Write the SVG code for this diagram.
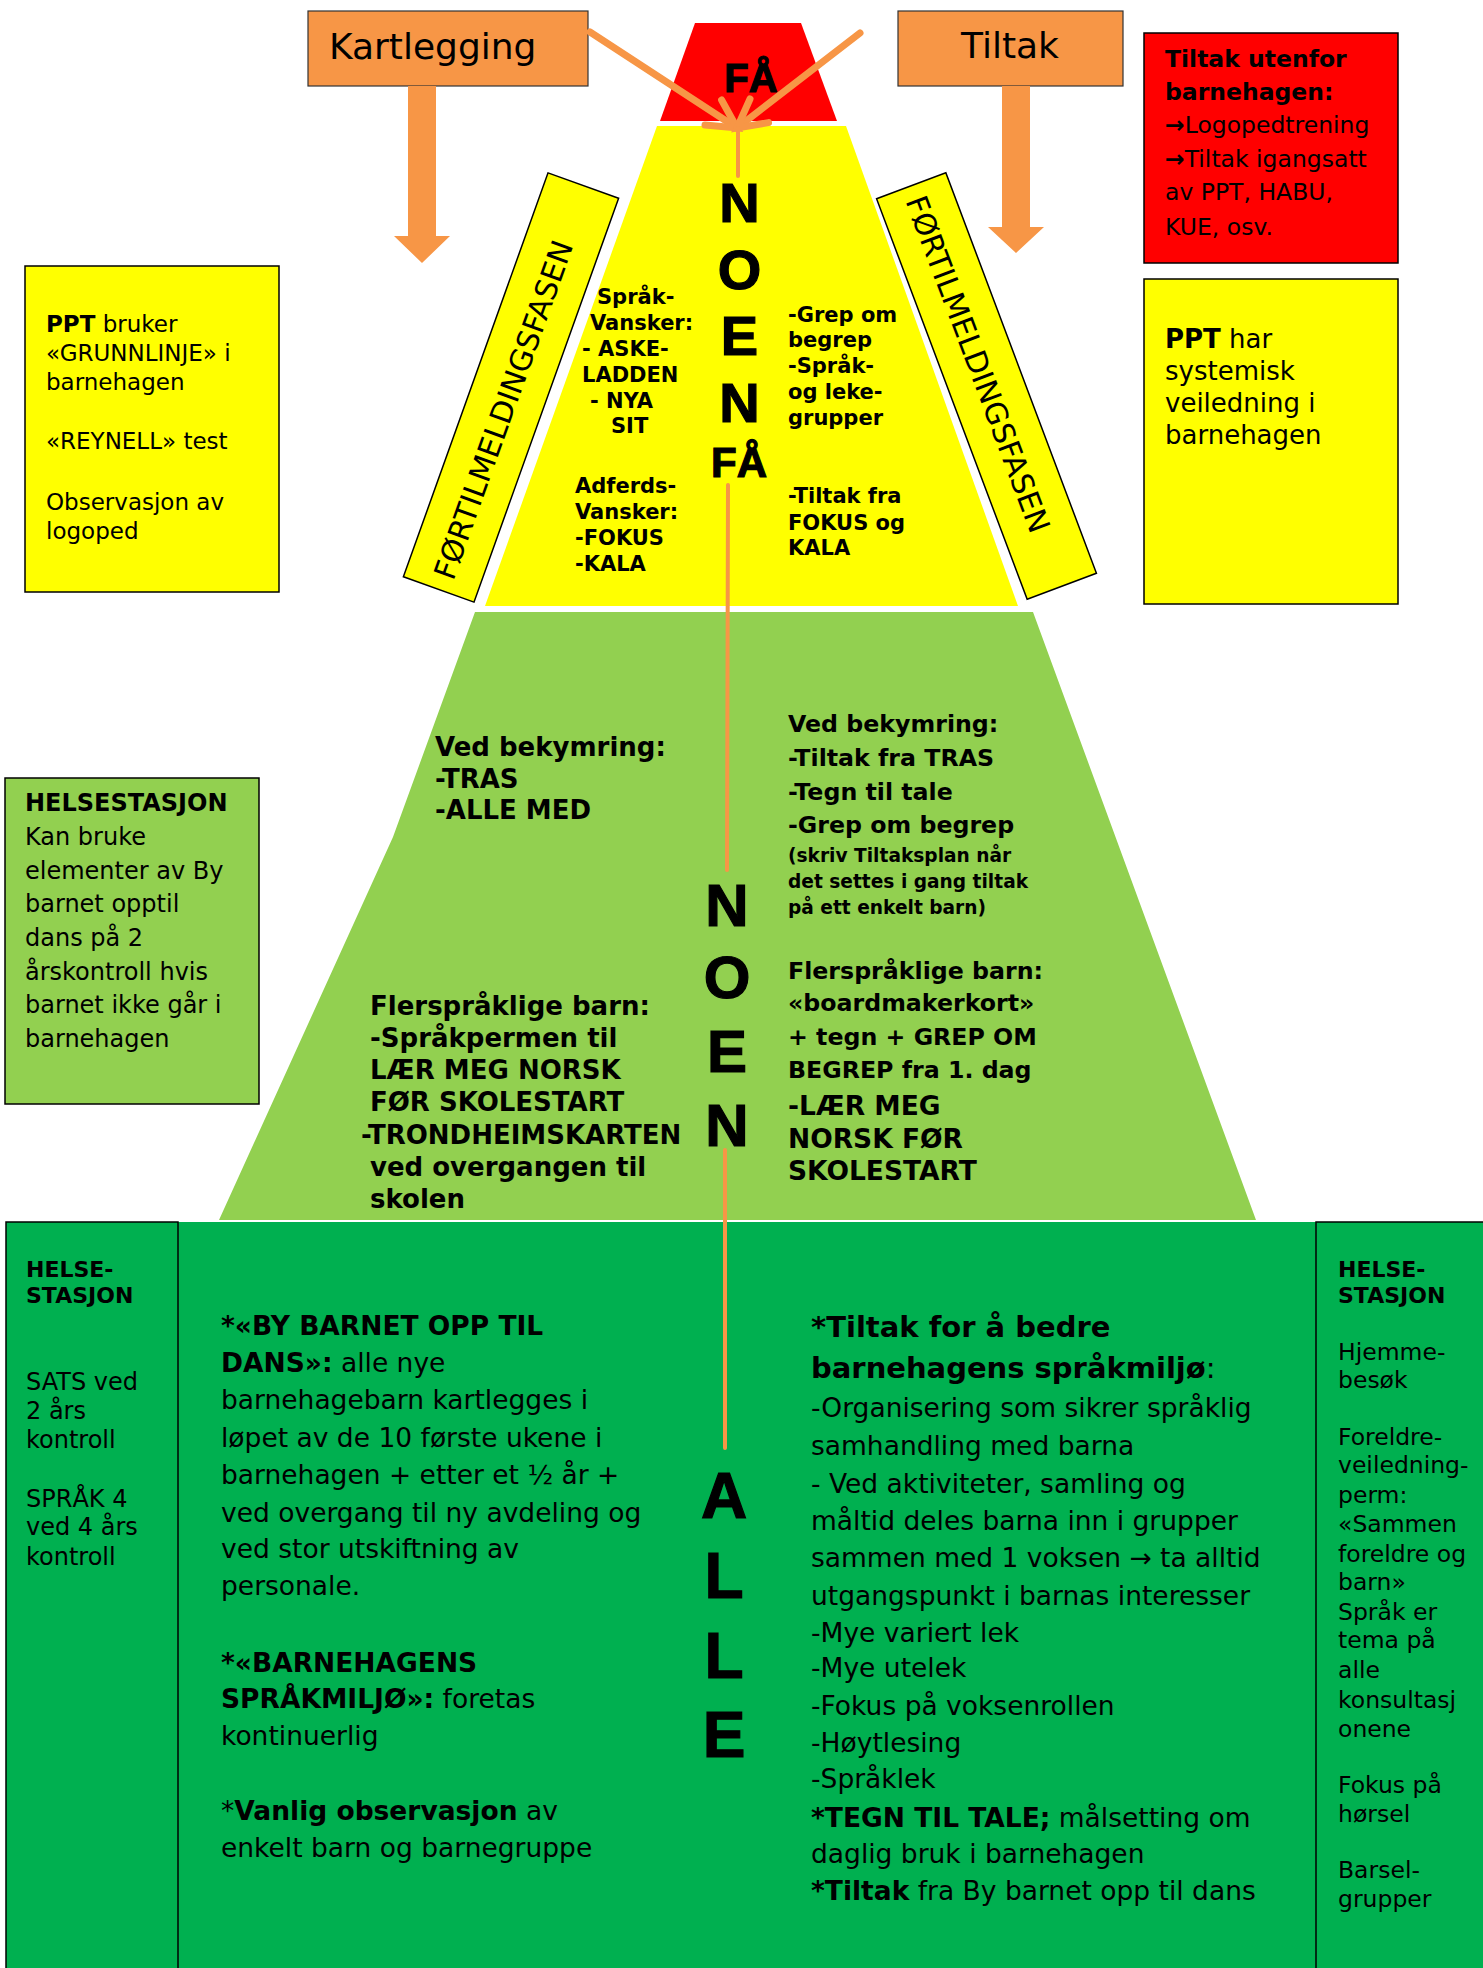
<svg xmlns="http://www.w3.org/2000/svg" width="1483" height="1968" viewBox="0 0 1483 1968">
<style>
.t{font-family:"DejaVu Sans",Verdana,sans-serif;fill:#000}
.b{font-weight:bold}
.big{font-family:"Liberation Sans",Arial,sans-serif;font-weight:bold;text-anchor:middle;fill:#000;stroke:#000;stroke-width:1.2}
.box{stroke:#000;stroke-width:1.5}
.org{fill:#F79646}
.ln{stroke:#F79646;fill:none;stroke-linecap:round}
</style>
<defs>
<clipPath id="clipL"><rect x="0" y="600" width="692" height="620"/></clipPath>
</defs>
<rect width="1483" height="1968" fill="#fff"/>

<g id="fa-niva">
<polygon points="695,23 801,23 837,121 660,121" fill="#FF0000"/>
<text class="big" x="751" y="92" font-size="40">FÅ</text>
</g>

<g id="noen-fa-niva">
<polygon points="657,126 846,126 1018,606 485,606" fill="#FFFF00"/>
<g class="t b" font-size="21">
<text x="597" y="304">Språk-</text>
<text x="590" y="330">Vansker:</text>
<text x="582" y="356">- ASKE-</text>
<text x="582" y="382">LADDEN</text>
<text x="590" y="408">- NYA</text>
<text x="611" y="433">SIT</text>
<text x="575" y="493">Adferds-</text>
<text x="575" y="519">Vansker:</text>
<text x="575" y="545">-FOKUS</text>
<text x="575" y="571">-KALA</text>
<text x="788" y="322">-Grep om</text>
<text x="788" y="347">begrep</text>
<text x="788" y="373">-Språk-</text>
<text x="788" y="399">og leke-</text>
<text x="788" y="425">grupper</text>
<text x="788" y="503">-Tiltak fra</text>
<text x="788" y="530">FOKUS og</text>
<text x="788" y="555">KALA</text>
</g>
<g class="big" font-size="56">
<text x="739.5" y="222">N</text>
<text x="739.5" y="289">O</text>
<text x="739.5" y="355">E</text>
<text x="739.5" y="422">N</text>
</g>
<text class="big" x="739" y="477" font-size="42">FÅ</text>
</g>

<g id="noen-niva">
<polygon points="475,612 1033,612 1256,1220 219,1220 393,837" fill="#92D050"/>
<g class="t b" font-size="26">
<text x="435" y="756">Ved bekymring:</text>
<text x="435" y="788">-TRAS</text>
<text x="435" y="819">-ALLE MED</text>
<text x="370" y="1015">Flerspråklige barn:</text>
<text x="370" y="1047">-Språkpermen til</text>
<text x="370" y="1079">LÆR MEG NORSK</text>
<text x="370" y="1111">FØR SKOLESTART</text>
<text x="361" y="1144" clip-path="url(#clipL)">-TRONDHEIMSKARTEN</text>
<text x="370" y="1176">ved overgangen til</text>
<text x="370" y="1208">skolen</text>
</g>
<g class="t b" font-size="23.7">
<text x="788" y="732">Ved bekymring:</text>
<text x="788" y="766">-Tiltak fra TRAS</text>
<text x="788" y="800">-Tegn til tale</text>
<text x="788" y="833">-Grep om begrep</text>
<text x="788" y="862" font-size="18.6">(skriv Tiltaksplan når</text>
<text x="788" y="888" font-size="18.6">det settes i gang tiltak</text>
<text x="788" y="914" font-size="18.6">på ett enkelt barn)</text>
<text x="788" y="979">Flerspråklige barn:</text>
<text x="788" y="1011">«boardmakerkort»</text>
<text x="788" y="1045">+ tegn + GREP OM</text>
<text x="788" y="1078">BEGREP fra 1. dag</text>
<text x="788" y="1115" font-size="26.5">-LÆR MEG</text>
<text x="788" y="1148" font-size="26.5">NORSK FØR</text>
<text x="788" y="1180" font-size="26.5">SKOLESTART</text>
</g>
<g class="big" font-size="60">
<text x="727" y="926">N</text>
<text x="727" y="998">O</text>
<text x="727" y="1072">E</text>
<text x="727" y="1146">N</text>
</g>
</g>

<g id="alle-niva">
<rect x="178" y="1222" width="1138" height="746" fill="#00B050"/>
<g class="t" font-size="26.5">
<text x="221" y="1335"><tspan class="b">*«BY BARNET OPP TIL</tspan></text>
<text x="221" y="1372"><tspan class="b">DANS»:</tspan> alle nye</text>
<text x="221" y="1409">barnehagebarn kartlegges i</text>
<text x="221" y="1447">løpet av de 10 første ukene i</text>
<text x="221" y="1484">barnehagen + etter et ½ år +</text>
<text x="221" y="1522">ved overgang til ny avdeling og</text>
<text x="221" y="1558">ved stor utskiftning av</text>
<text x="221" y="1595">personale.</text>
<text x="221" y="1672"><tspan class="b">*«BARNEHAGENS</tspan></text>
<text x="221" y="1708"><tspan class="b">SPRÅKMILJØ»:</tspan> foretas</text>
<text x="221" y="1745">kontinuerlig</text>
<text x="221" y="1820">*<tspan class="b">Vanlig observasjon</tspan> av</text>
<text x="221" y="1857">enkelt barn og barnegruppe</text>
</g>
<g class="t" font-size="26.5">
<text x="811" y="1337" font-size="29"><tspan class="b">*Tiltak for å bedre</tspan></text>
<text x="811" y="1378" font-size="29"><tspan class="b">barnehagens språkmiljø</tspan>:</text>
<text x="811" y="1417">-Organisering som sikrer språklig</text>
<text x="811" y="1455">samhandling med barna</text>
<text x="811" y="1493">- Ved aktiviteter, samling og</text>
<text x="811" y="1530">måltid deles barna inn i grupper</text>
<text x="811" y="1567">sammen med 1 voksen → ta alltid</text>
<text x="811" y="1605">utgangspunkt i barnas interesser</text>
<text x="811" y="1642">-Mye variert lek</text>
<text x="811" y="1677">-Mye utelek</text>
<text x="811" y="1715">-Fokus på voksenrollen</text>
<text x="811" y="1752">-Høytlesing</text>
<text x="811" y="1788">-Språklek</text>
<text x="811" y="1827"><tspan class="b">*TEGN TIL TALE;</tspan> målsetting om</text>
<text x="811" y="1863">daglig bruk i barnehagen</text>
<text x="811" y="1900"><tspan class="b">*Tiltak</tspan> fra By barnet opp til dans</text>
</g>
<g class="big" font-size="64">
<text x="724" y="1518">A</text>
<text x="724" y="1598">L</text>
<text x="724" y="1678">L</text>
<text x="724" y="1757">E</text>
</g>
</g>

<g id="helsestasjon-venstre">
<rect class="box" x="6" y="1222" width="172" height="760" fill="#00B050"/>
<g class="t" font-size="24">
<text x="26" y="1277" class="t b" font-size="22">HELSE-</text>
<text x="26" y="1303" class="t b" font-size="22">STASJON</text>
<text x="26" y="1390">SATS ved</text>
<text x="26" y="1419">2 års</text>
<text x="26" y="1448">kontroll</text>
<text x="26" y="1507">SPRÅK 4</text>
<text x="26" y="1535">ved 4 års</text>
<text x="26" y="1565">kontroll</text>
</g>
</g>

<g id="helsestasjon-hoyre">
<rect class="box" x="1316" y="1222" width="180" height="760" fill="#00B050"/>
<g class="t" font-size="23.5">
<text x="1338" y="1277" class="t b" font-size="22">HELSE-</text>
<text x="1338" y="1303" class="t b" font-size="22">STASJON</text>
<text x="1338" y="1360">Hjemme-</text>
<text x="1338" y="1388">besøk</text>
<text x="1338" y="1445">Foreldre-</text>
<text x="1338" y="1473">veiledning-</text>
<text x="1338" y="1503">perm:</text>
<text x="1338" y="1532">«Sammen</text>
<text x="1338" y="1562">foreldre og</text>
<text x="1338" y="1590">barn»</text>
<text x="1338" y="1620">Språk er</text>
<text x="1338" y="1648">tema på</text>
<text x="1338" y="1678">alle</text>
<text x="1338" y="1708">konsultasj</text>
<text x="1338" y="1737">onene</text>
<text x="1338" y="1793">Fokus på</text>
<text x="1338" y="1822">hørsel</text>
<text x="1338" y="1878">Barsel-</text>
<text x="1338" y="1907">grupper</text>
</g>
</g>

<g id="fortilmelding-venstre" transform="translate(511,387.5) rotate(-70.3)">
<rect class="box" x="-214.5" y="-37.5" width="429" height="75" fill="#FFFF00"/>
<text class="t" x="-202" y="11" font-size="30">FØRTILMELDINGSFASEN</text>
</g>

<g id="fortilmelding-hoyre" transform="translate(986.5,386) rotate(69.4)">
<rect class="box" x="-214" y="-37" width="428" height="74" fill="#FFFF00"/>
<text class="t" x="-202" y="11" font-size="30">FØRTILMELDINGSFASEN</text>
</g>

<g id="ppt-kartlegging">
<rect class="box" x="25" y="266" width="254" height="326" fill="#FFFF00"/>
<g class="t" font-size="23">
<text x="46" y="332"><tspan class="b">PPT</tspan> bruker</text>
<text x="46" y="361">«GRUNNLINJE» i</text>
<text x="46" y="390">barnehagen</text>
<text x="46" y="449">«REYNELL» test</text>
<text x="46" y="510">Observasjon av</text>
<text x="46" y="539">logoped</text>
</g>
</g>

<g id="helsestasjon-2aar">
<rect class="box" x="5" y="778" width="254" height="326" fill="#92D050"/>
<g class="t" font-size="24">
<text x="25" y="811" class="t b">HELSESTASJON</text>
<text x="25" y="845">Kan bruke</text>
<text x="25" y="879">elementer av By</text>
<text x="25" y="912">barnet opptil</text>
<text x="25" y="946">dans på 2</text>
<text x="25" y="980">årskontroll hvis</text>
<text x="25" y="1013">barnet ikke går i</text>
<text x="25" y="1047">barnehagen</text>
</g>
</g>

<g id="tiltak-utenfor">
<rect class="box" x="1144" y="33" width="254" height="230" fill="#FF0000"/>
<g class="t" font-size="23.5">
<text x="1165" y="67" class="t b">Tiltak utenfor</text>
<text x="1165" y="100" class="t b">barnehagen:</text>
<text x="1165" y="133"><tspan class="b">→</tspan>Logopedtrening</text>
<text x="1165" y="167"><tspan class="b">→</tspan>Tiltak igangsatt</text>
<text x="1165" y="200">av PPT, HABU,</text>
<text x="1165" y="235">KUE, osv.</text>
</g>
</g>

<g id="ppt-veiledning">
<rect class="box" x="1144" y="279" width="254" height="325" fill="#FFFF00"/>
<g class="t" font-size="26">
<text x="1165" y="348"><tspan class="b">PPT</tspan> har</text>
<text x="1165" y="380">systemisk</text>
<text x="1165" y="412">veiledning i</text>
<text x="1165" y="444">barnehagen</text>
</g>
</g>

<g id="kartlegging">
<rect x="308" y="11" width="280" height="75" fill="#F79646" stroke="#333" stroke-width="1.2"/>
<text class="t" x="329" y="59" font-size="36">Kartlegging</text>
</g>

<g id="tiltak">
<rect x="898" y="11" width="225" height="75" fill="#F79646" stroke="#333" stroke-width="1.2"/>
<text class="t" x="1010" y="58" font-size="36" text-anchor="middle">Tiltak</text>
</g>

<g id="connectors">
<polygon class="org" points="408,86 436,86 436,236 450,236 422,263 394,236 408,236"/>
<polygon class="org" points="1002,86 1030,86 1030,227 1044,227 1016,253 988,227 1002,227"/>
<g class="ln" stroke-width="7">
<line x1="590" y1="32" x2="737" y2="128"/>
<polyline points="721.6,100 737,128 705,125"/>
<line x1="860" y1="33" x2="737" y2="128"/>
<polyline points="750,99 737,128 768.5,122.6"/>
</g>
<g class="ln" stroke-width="4">
<line x1="738" y1="128" x2="738" y2="176"/>
<line x1="728" y1="485" x2="727" y2="870"/>
<line x1="725" y1="1150" x2="725" y2="1448"/>
</g>
</g>
</svg>
